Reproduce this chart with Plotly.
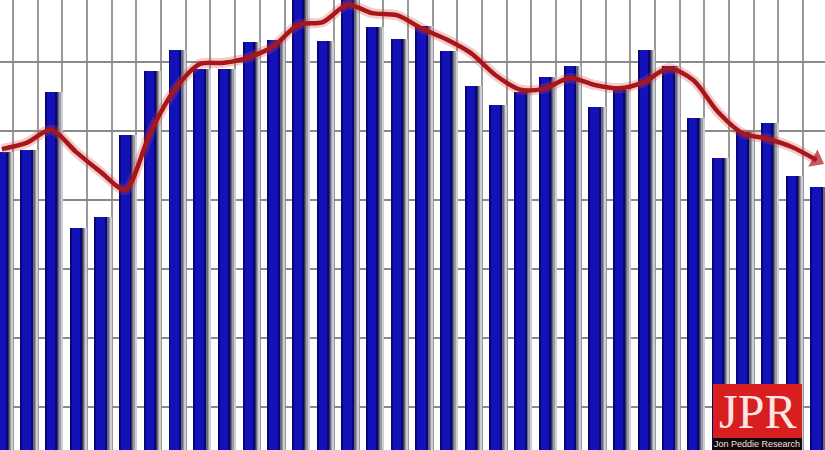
import plotly.graph_objects as go

# ---- data (arbitrary units) ----
periods = list(range(34))
shipments = [47.0, 47.3, 55.7, 36.0, 37.6, 49.4, 58.7, 61.8, 59.0, 59.0,
             62.9, 63.2, 71.0, 63.1, 70.0, 65.1, 63.3, 65.2, 61.6, 56.5,
             53.8, 55.7, 57.8, 59.4, 53.5, 56.0, 61.8, 59.4, 51.9, 46.1,
             49.9, 51.2, 43.5, 41.9]
trend = [47.4, 48.3, 50.2, 47.0, 44.1, 41.5, 49.7, 56.0, 59.7, 59.9,
         60.7, 62.3, 65.4, 65.8, 68.3, 67.1, 66.8, 64.9, 63.3, 61.3,
         58.1, 56.0, 56.2, 57.7, 56.7, 56.2, 57.1, 59.1, 57.4, 52.8,
         49.7, 48.9, 47.7, 45.8]

fig = go.Figure()

# bar shadow (soft gray gradient to the right of each bar)
shadow_cols = ["rgb(55,55,75)", "rgb(105,105,120)", "rgb(155,155,168)", "rgb(205,205,215)"]
for i, c in enumerate(shadow_cols):
    fig.add_trace(go.Bar(x=periods, y=shipments, width=0.06, offset=0.24 + i * 0.055,
                         marker=dict(color=c, line=dict(width=0)),
                         hoverinfo="skip", showlegend=False))

# main bars (dark edge + brighter core)
fig.add_trace(go.Bar(x=periods, y=shipments, width=0.5, offset=-0.25,
                     marker=dict(color="#06067a", line=dict(width=0)),
                     showlegend=False))
fig.add_trace(go.Bar(x=periods, y=shipments, width=0.34, offset=-0.17,
                     marker=dict(color="#1212b8", line=dict(width=0)),
                     hoverinfo="skip", showlegend=False))

# red trend line with glow
fig.add_trace(go.Scatter(x=periods, y=trend, mode="lines",
                         line=dict(color="rgba(210,70,70,0.28)", width=10, shape="spline", smoothing=0.8),
                         hoverinfo="skip", showlegend=False))
fig.add_trace(go.Scatter(x=periods, y=trend, mode="lines",
                         line=dict(color="#a8161a", width=4.5, shape="spline", smoothing=0.8),
                         showlegend=False))
fig.add_trace(go.Scatter(x=periods[-2:], y=trend[-2:], mode="markers",
                         marker=dict(symbol="triangle-up", angleref="previous", size=[0, 17],
                                     color="#b0161a", line=dict(width=0)),
                         hoverinfo="skip", showlegend=False))

fig.update_layout(
    width=825, height=450,
    margin=dict(l=0, r=0, t=0, b=0),
    paper_bgcolor="white", plot_bgcolor="white",
    barmode="overlay", bargap=0,
    xaxis=dict(range=[-0.075, 33.34], showticklabels=False, ticks="",
               showgrid=True, gridcolor="#9a9a9a", gridwidth=2,
               tick0=0.45, dtick=1, zeroline=False, showline=False),
    yaxis=dict(range=[3.8, 69.0], showticklabels=False, ticks="",
               showgrid=True, gridcolor="#8a8a8a", gridwidth=2,
               tick0=0, dtick=10, zeroline=False, showline=False),
    shapes=[
        dict(type="rect", xref="paper", yref="paper",
             x0=713 / 825, x1=802 / 825, y0=12 / 450, y1=66 / 450,
             fillcolor="#d81e1e", line=dict(width=0), layer="above"),
        dict(type="rect", xref="paper", yref="paper",
             x0=713 / 825, x1=802 / 825, y0=0, y1=12 / 450,
             fillcolor="#120808", line=dict(width=0), layer="above"),
    ],
    annotations=[
        dict(text="JPR", xref="paper", yref="paper", x=757 / 825, y=39 / 450,
             xanchor="center", yanchor="middle", showarrow=False,
             font=dict(family="Liberation Serif", size=48, color="#ffe4e4")),
        dict(text="Jon Peddie Research", xref="paper", yref="paper", x=757 / 825, y=6 / 450,
             xanchor="center", yanchor="middle", showarrow=False,
             font=dict(family="Liberation Sans Narrow, Liberation Sans", size=9, color="#f0e0e0")),
    ],
)

fig.write_html("out.html", config={"displayModeBar": False},
               post_script="document.body.style.margin='0';document.body.style.overflow='hidden';")
